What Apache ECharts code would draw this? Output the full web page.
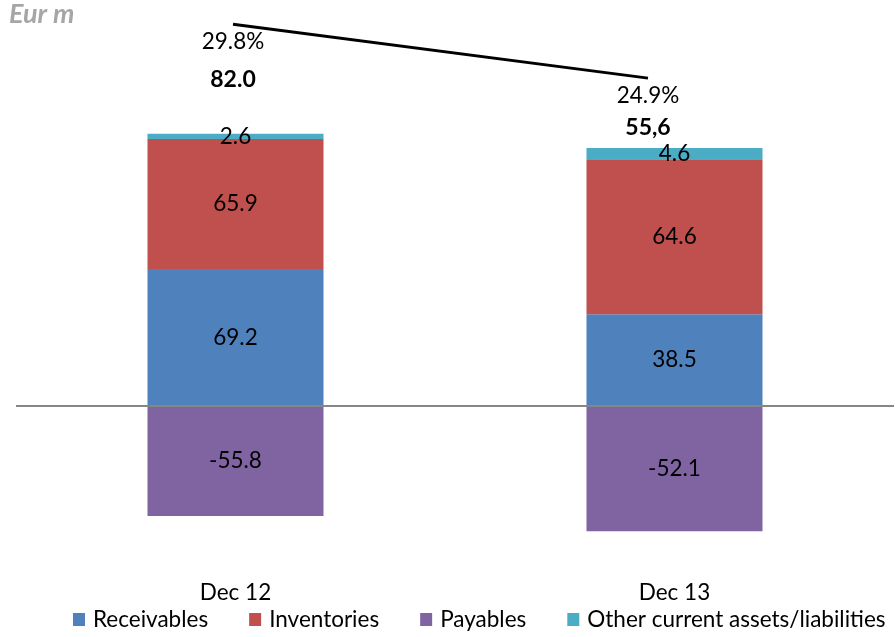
<!DOCTYPE html>
<html>
<head>
<meta charset="utf-8">
<script src="https://cdn.jsdelivr.net/npm/echarts@6/dist/echarts.min.js"></script>
<style>html,body{margin:0;padding:0;background:#fff}#c{width:895px;height:637px}</style>
</head>
<body>
<div id="c"></div>
<script>
// Categories
const categories = ['Dec 12', 'Dec 13'];
// Bar segment heights as drawn in the picture (Eur m, common scale)
const receivables = [69.2, 46.3];
const inventories = [65.9, 78.5];
const payables = [-55.8, -63.6];
const other = [2.6, 5.7];
// Printed segment labels
const receivablesText = ['69.2', '38.5'];
const inventoriesText = ['65.9', '64.6'];
const payablesText = ['-55.8', '-52.1'];
const otherText = ['2.6', '4.6'];
// Ratio line and totals
const ratio = [29.8, 24.9];
const ratioText = ['29.8%', '24.9%'];
const totalText = ['82.0', '55,6'];

const FONT = 'Lato';
const FS = 22.5;
const chart = echarts.init(document.getElementById('c'));

function barSeries(name, data, texts, color) {
  return {
    name: name, type: 'bar', stack: 'wc', data: data,
    xAxisIndex: 0, yAxisIndex: 0, barWidth: 176,
    itemStyle: { color: color },
    label: {
      show: true, position: 'inside', color: '#000', fontSize: FS, fontFamily: FONT,
      formatter: p => texts[p.dataIndex]
    }
  };
}

const recS = barSeries('Receivables', receivables, receivablesText, '#4F81BD');
recS.markLine = {
  silent: true, symbol: 'none', animation: false,
  label: { show: false },
  lineStyle: { color: '#868686', width: 2, type: 'solid' },
  data: [{ yAxis: 0 }]
};

const totalDist = [43, 37];

const option = {
  animation: false,
  backgroundColor: '#fff',
  title: {
    text: 'Eur m', left: 4, top: -4,
    textStyle: { color: '#A6A6A6', fontSize: 27, fontWeight: 'bold', fontStyle: 'italic', fontFamily: FONT }
  },
  legend: {
    left: 73, top: 608, padding: 0, itemWidth: 12, itemHeight: 13, itemGap: 41, icon: 'rect',
    data: ['Receivables', 'Inventories', 'Payables', 'Other current assets/liabilities'],
    textStyle: { color: '#000', fontSize: FS, fontFamily: FONT, padding: [0, 0, 0, 3] }
  },
  grid: [
    { left: 16, right: 1, top: 10.7, bottom: 64 },
    { left: 25.5, right: 39.5, top: 1, bottom: 284.5 }
  ],
  xAxis: [
    {
      type: 'category', data: categories, gridIndex: 0,
      axisLine: { show: false, onZero: false }, axisTick: { show: false },
      axisLabel: { color: '#000', fontSize: FS, fontFamily: FONT, margin: 8 }
    },
    { type: 'category', data: categories, gridIndex: 1, show: false }
  ],
  yAxis: [
    { type: 'value', gridIndex: 0, min: -84.7, max: 200, show: false, splitLine: { show: false } },
    { type: 'value', gridIndex: 1, min: 0, max: 31.9, show: false, splitLine: { show: false } }
  ],
  series: [
    recS,
    barSeries('Inventories', inventories, inventoriesText, '#C0504D'),
    barSeries('Payables', payables, payablesText, '#8064A2'),
    barSeries('Other current assets/liabilities', other, otherText, '#4BACC6'),
    {
      name: 'ratio', type: 'line', xAxisIndex: 1, yAxisIndex: 1, data: ratio,
      symbol: 'circle', symbolSize: 1, showSymbol: true,
      itemStyle: { color: 'rgba(0,0,0,0)' },
      lineStyle: { color: '#000', width: 3 },
      label: {
        show: true, position: 'bottom', distance: 6, color: '#000', fontSize: FS, fontFamily: FONT,
        formatter: p => ratioText[p.dataIndex]
      }
    },
    {
      name: 'total', type: 'line', xAxisIndex: 1, yAxisIndex: 1,
      data: ratio.map((v, i) => ({ value: v, label: { distance: totalDist[i] } })),
      symbol: 'circle', symbolSize: 1, showSymbol: true,
      itemStyle: { color: 'rgba(0,0,0,0)' },
      lineStyle: { width: 0, opacity: 0 },
      label: {
        show: true, position: 'bottom', color: '#000', fontSize: 23, fontWeight: 'bold', fontFamily: FONT,
        formatter: p => totalText[p.dataIndex]
      }
    }
  ]
};
chart.setOption(option);
</script>
</body>
</html>
